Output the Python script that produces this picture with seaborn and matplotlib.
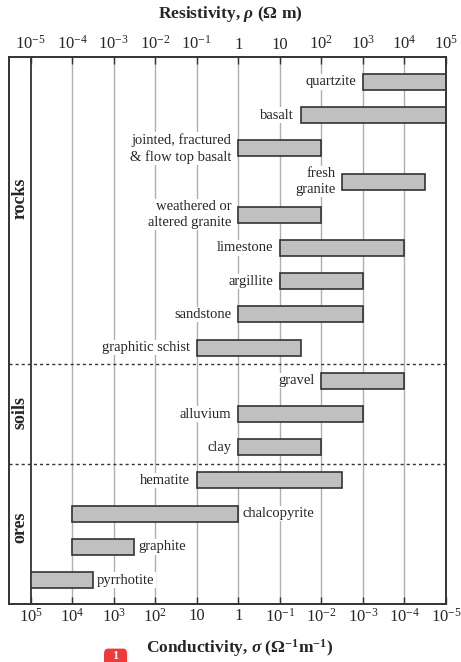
import numpy as np
import pandas as pd
import matplotlib
matplotlib.use('Agg')
import matplotlib.pyplot as plt
import seaborn as sns
from matplotlib.transforms import blended_transform_factory
from matplotlib.patches import FancyBboxPatch

# Datos: rango de resistividad (exponentes log10 de Ohm m)
materials = ['quartzite', 'basalt', 'jointed, fractured\n& flow top basalt',
             'fresh\ngranite', 'weathered or\naltered granite', 'limestone',
             'argillite', 'sandstone', 'graphitic schist',
             'gravel', 'alluvium', 'clay',
             'hematite', 'chalcopyrite', 'graphite', 'pyrrhotite']
group = ['rocks'] * 9 + ['soils'] * 3 + ['ores'] * 4
rho_lo_exp = [3, 1.5, 0, 2.5, 0, 1, 1, 0, -1, 2, 0, 0, -1, -4, -4, -5]
rho_hi_exp = [5, 5, 2, 4.5, 2, 4, 3, 3, 1.5, 4, 3, 2, 2.5, 0, -2.5, -3.5]
label_side = ['left'] * 13 + ['right'] * 3

tick_exp = [-5, -4, -3, -2, -1, 0, 1, 2, 3, 4, 5]
top_labels = ['$10^{-5}$', '$10^{-4}$', '$10^{-3}$', '$10^{-2}$', '$10^{-1}$',
              '1', '10', '$10^{2}$', '$10^{3}$', '$10^{4}$', '$10^{5}$']
bottom_labels = ['$10^{5}$', '$10^{4}$', '$10^{3}$', '$10^{2}$', '10', '1',
                 '$10^{-1}$', '$10^{-2}$', '$10^{-3}$', '$10^{-4}$', '$10^{-5}$']

df = pd.DataFrame({'material': materials, 'group': group,
                   'lo': 10.0 ** np.array(rho_lo_exp),
                   'hi': 10.0 ** np.array(rho_hi_exp),
                   'side': label_side})
df['row'] = np.arange(len(df))

sns.set_theme(style='white')
plt.rcParams['font.family'] = ['Liberation Serif', 'DejaVu Serif']
plt.rcParams['mathtext.fontset'] = 'custom'
plt.rcParams['mathtext.rm'] = 'Liberation Serif'
plt.rcParams['mathtext.it'] = 'Liberation Serif:italic'
plt.rcParams['mathtext.bf'] = 'Liberation Serif:bold'
plt.rcParams['mathtext.bfit'] = 'Liberation Serif:bold:italic'

dark = '#333333'
fig = plt.figure(figsize=(4.61, 6.62), dpi=100)
ax = fig.add_axes([9 / 461, 58 / 662, 437 / 461, 547 / 662])

ax.set_xscale('log')
ticks = 10.0 ** np.array(tick_exp)
ax.set_xlim(10 ** -5.52, 10 ** 5)
ax.set_ylim(15.72, -0.75)

# lineas verticales de fondo
for t in ticks[1:]:
    ax.axvline(t, color='#b0b0b0', lw=1.0, zorder=0)
ax.axvline(ticks[0], color=dark, lw=1.3, zorder=1)

ax.barh(df['row'], df['hi'] - df['lo'], left=df['lo'], height=0.48,
        color='#c0c0c0', edgecolor=dark, linewidth=1.2, zorder=3)

for _, r in df.iterrows():
    if r['side'] == 'left':
        ax.annotate(r['material'], (r['lo'], r['row']), xytext=(-5, 0),
                    textcoords='offset points', ha='right', va='center',
                    ma='right', fontsize=10.5, linespacing=1.3, zorder=4,
                    bbox=dict(facecolor='white', edgecolor='none', pad=0.8))
    else:
        ax.annotate(r['material'], (r['hi'], r['row']), xytext=(3, 0),
                    textcoords='offset points', ha='left', va='center',
                    fontsize=10.5, zorder=4,
                    bbox=dict(facecolor='white', edgecolor='none', pad=0.8))

# separadores entre grupos
for yb in [8.5, 11.5]:
    ax.axhline(yb, color=dark, lw=1.0, ls=(0, (2.2, 2.2)), zorder=2)

tr = blended_transform_factory(ax.transAxes, ax.transData)
for name, yc in zip(['rocks', 'soils', 'ores'], [3.5, 9.95, 13.4]):
    ax.text(0.025, yc, name, transform=tr, rotation=90, ha='center',
            va='center', fontsize=13, fontweight='bold')

ax.set_yticks([])
ax.set_xticks(ticks)
ax.set_xticklabels(bottom_labels)
ax.xaxis.set_minor_locator(matplotlib.ticker.NullLocator())
ax.tick_params(axis='x', which='major', direction='in', length=5, width=1,
               color=dark, labelsize=12, pad=3, bottom=True, top=False)

ax2 = ax.twiny()
ax2.set_xscale('log')
ax2.set_xlim(ax.get_xlim())
ax2.set_xticks(ticks)
ax2.set_xticklabels(top_labels)
ax2.xaxis.set_minor_locator(matplotlib.ticker.NullLocator())
ax2.tick_params(axis='x', which='major', direction='in', length=5, width=1,
                color=dark, labelsize=12, pad=3)

for a in (ax, ax2):
    for s in a.spines.values():
        s.set_color(dark)
        s.set_linewidth(1.2)

fig.text(0.5, 1 - 14 / 662, r'Resistivity, $\mathbfit{\rho}$ (Ω m)',
         ha='center', va='center', fontsize=12.5, fontweight='bold')
fig.text(0.52, 1 - 648 / 662,
         r'Conductivity, $\mathbfit{\sigma}$ ($\mathbf{\Omega^{-1}m^{-1}}$)',
         ha='center', va='center', fontsize=12.5, fontweight='bold')

# marca roja de la captura
badge = FancyBboxPatch((104 / 461, -0.01), 23 / 461, 20 / 662,
                       boxstyle='round,pad=0,rounding_size=0.008',
                       transform=fig.transFigure, facecolor='#f03a3a',
                       edgecolor='none')
fig.patches.append(badge)
fig.text(115.5 / 461, 0, '1', color='white', ha='center', va='bottom',
         fontsize=9, fontweight='bold')

fig.savefig('out.png', dpi=100)
